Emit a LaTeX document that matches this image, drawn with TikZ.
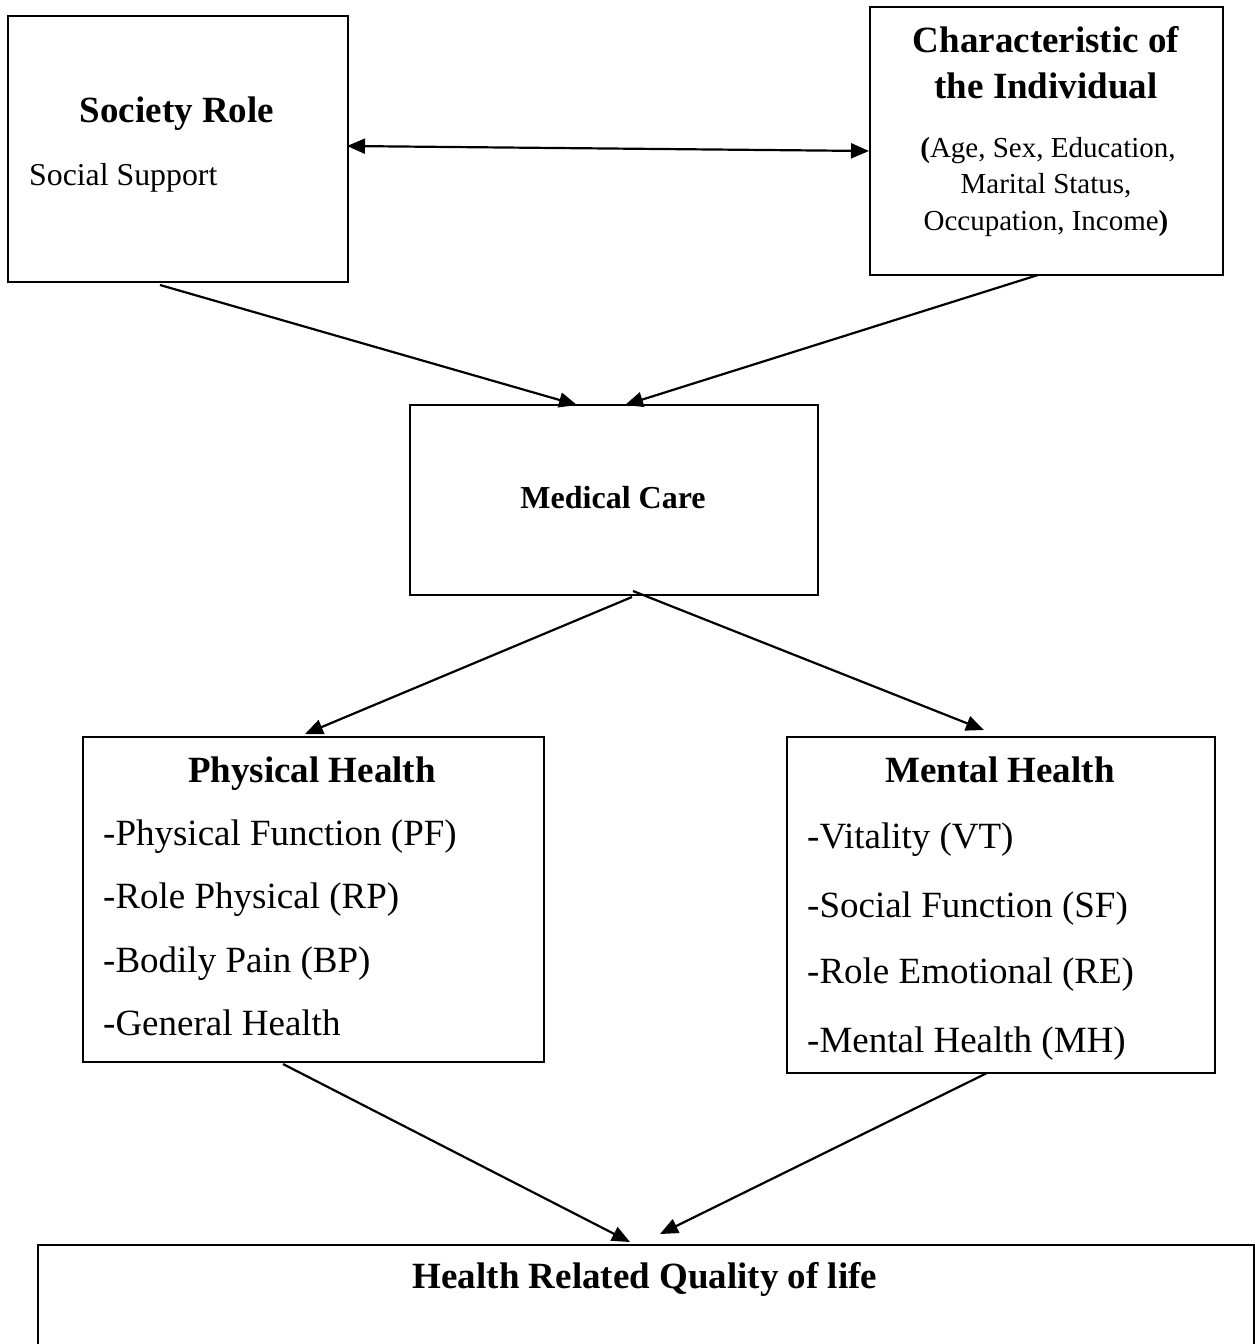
\documentclass[tikz,border=0pt]{standalone}
\usepackage{fontspec}
\setmainfont{Liberation Serif}
\usetikzlibrary{arrows.meta}
\begin{document}
\begin{tikzpicture}[x=1pt,y=-1pt,
  box/.style={draw, line width=2pt, anchor=north west, inner sep=0pt},
  conn/.style={line width=2.2pt, -{Triangle[length=18pt,width=15pt]}},
  ttl/.style={font=\fontsize{37}{46}\selectfont\bfseries, anchor=base, inner sep=0pt},
  itm/.style={font=\fontsize{37}{46}\selectfont, anchor=base west, inner sep=0pt},
  sub/.style={font=\fontsize{29}{36}\selectfont, anchor=base, inner sep=0pt}]
\useasboundingbox (0,0) rectangle (1255,1344);
\clip (0,0) rectangle (1255,1344);

% boxes
\node[box, minimum width=340pt, minimum height=266pt] (soc) at (7,15) {};
\node[box, minimum width=353pt, minimum height=268pt] (chr) at (869,6) {};
\node[box, minimum width=408pt, minimum height=190pt] (med) at (409,404) {};
\node[box, minimum width=461pt, minimum height=325pt] (phy) at (82,736) {};
\node[box, minimum width=428pt, minimum height=336pt] (men) at (786,736) {};
\node[box, minimum width=1216pt, minimum height=200pt] (hrq) at (37,1244) {};

% texts
\node[ttl] (socT) at (177,122) {Society Role};
\node[font=\fontsize{31.8}{40}\selectfont, anchor=base west, inner sep=0pt] (socS) at (29,185) {Social Support};

\node[ttl] (chrT1) at (1046,52) {Characteristic of};
\node[ttl] (chrT2) at (1046,98) {the Individual};
\node[sub] (chrS1) at (1048,157) {\textbf{(}Age, Sex, Education,};
\node[sub] (chrS2) at (1046,193) {Marital Status,};
\node[sub] (chrS3) at (1046,230) {Occupation, Income\textbf{)}};

\node[font=\fontsize{32}{40}\selectfont\bfseries, anchor=base, inner sep=0pt] (medT) at (613,508) {Medical Care};

\node[ttl] (phyT) at (312,782) {Physical Health};
\node[itm] (phy1) at (103,845) {-Physical Function (PF)};
\node[itm] (phy2) at (103,908) {-Role Physical (RP)};
\node[itm] (phy3) at (103,972) {-Bodily Pain (BP)};
\node[itm] (phy4) at (103,1035) {-General Health};

\node[ttl] (menT) at (1000,782) {Mental Health};
\node[itm] (men1) at (807,848) {-Vitality (VT)};
\node[itm] (men2) at (807,917) {-Social Function (SF)};
\node[itm] (men3) at (807,983) {-Role Emotional (RE)};
\node[itm] (men4) at (807,1052) {-Mental Health (MH)};

\node[ttl] (hrqT) at (645,1288) {Health Related Quality of life};

% connector end points
\coordinate (a1) at (347,146);
\coordinate (a2) at (869,151);
\coordinate (b1) at (160,285);
\coordinate (b2) at (577,405);
\coordinate (c1) at (1038,275);
\coordinate (c2) at (625,405);
\coordinate (d1) at (632,597);
\coordinate (d2) at (305,734);
\coordinate (e1) at (633,591);
\coordinate (e2) at (984,730);
\coordinate (f1) at (283,1064);
\coordinate (f2) at (630,1242);
\coordinate (g1) at (987,1073);
\coordinate (g2) at (660,1234);

\draw[line width=2.2pt, {Triangle[length=18pt,width=15pt]}-{Triangle[length=18pt,width=15pt]}] (a1) -- (a2);
\draw[conn] (b1) -- (b2);
\draw[conn] (c1) -- (c2);
\draw[conn] (d1) -- (d2);
\draw[conn] (e1) -- (e2);
\draw[conn] (f1) -- (f2);
\draw[conn] (g1) -- (g2);
\end{tikzpicture}
\end{document}
